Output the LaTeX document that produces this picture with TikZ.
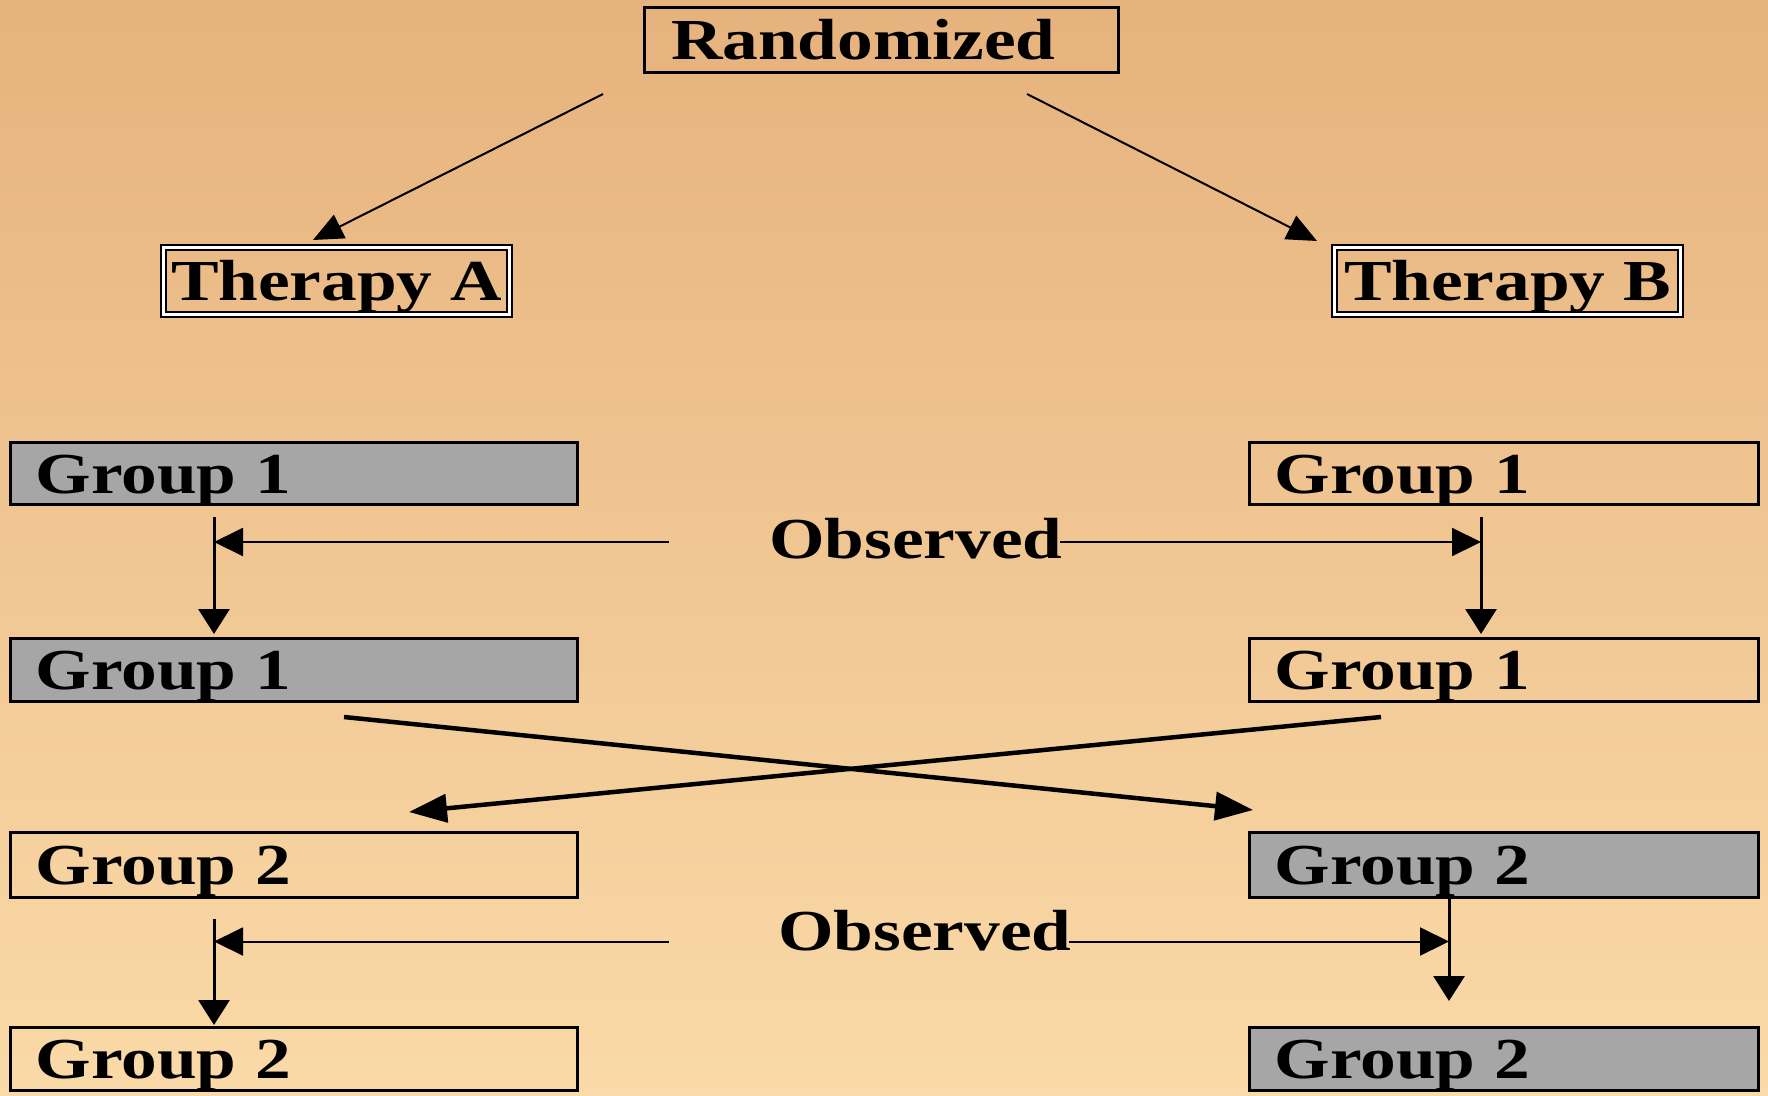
\documentclass[tikz,border=0pt]{standalone}
\usepackage{fontspec}
\setmainfont{Liberation Serif}
\usetikzlibrary{arrows.meta}

\definecolor{bgtop}{HTML}{E6B27D}
\definecolor{bgbot}{HTML}{FADAA8}
\definecolor{boxgray}{HTML}{A6A6A6}

\newcommand{\widefont}{\fontsize{58}{60}\selectfont\bfseries\addfontfeatures{FakeStretch=1.23}}

\tikzset{
  groupbox/.style={draw=black, line width=3pt, anchor=north west, outer sep=0pt,
    inner xsep=25pt, inner ysep=0pt, align=left,
    text height=39pt, text depth=0pt, font=\widefont},
  grayfill/.style={fill=boxgray},
  therapybox/.style={draw=black, line width=2pt, double=white, double distance=2.5pt,
    minimum width=346pt, minimum height=67pt, inner sep=0pt,
    text height=39pt, text depth=0pt, font=\widefont},
  topbox/.style={draw=black, line width=3pt, anchor=north west, outer sep=0pt,
    minimum height=65pt, inner xsep=26.5pt, inner ysep=0pt, align=left,
    text height=39pt, text depth=0pt, font=\widefont},
  obs/.style={font=\widefont, inner sep=0pt, anchor=base west},
  thinarrow/.style={line width=2pt, -{Triangle[length=29pt,width=28pt]}},
  downarrow/.style={line width=3pt, -{Triangle[length=25pt,width=31pt]}},
  diagarrow/.style={line width=2pt, -{Triangle[length=30pt,width=26pt]}},
  crossarrow/.style={line width=4.5pt, -{Triangle[length=38pt,width=28pt]}},
}

\begin{document}
\begin{tikzpicture}[x=1pt, y=-1pt]
  % background
  \shade[top color=bgtop, bottom color=bgbot] (0,0) rectangle (1768,1095);
  \useasboundingbox (0,0) rectangle (1768,1095);

  % top of the tree
  \node[topbox, text width=421pt] (rand) at (644.5,7) {Randomized};
  \node[therapybox] (ta) at (336.5,281) {Therapy A};
  \node[therapybox] (tb) at (1507.5,281) {Therapy B};

  \coordinate (rl) at (603,94);
  \coordinate (rr) at (1027,94);
  \coordinate (tat) at (313,240);
  \coordinate (tbt) at (1317,241);
  \draw[diagarrow] (rl) -- (tat);
  \draw[diagarrow] (rr) -- (tbt);

  % group boxes, left column
  \node[groupbox, grayfill, text width=516.5pt, minimum height=62pt] (l1) at (10.5,442.5) {Group 1};
  \node[groupbox, grayfill, text width=516.5pt, minimum height=62.5pt] (l2) at (10.5,638.5) {Group 1};
  \node[groupbox, text width=516.5pt, minimum height=65pt] (l3) at (10.5,832.5) {Group 2};
  \node[groupbox, text width=516.5pt, minimum height=63pt] (l4) at (10.5,1027.5) {Group 2};

  % group boxes, right column
  \node[groupbox, text width=459pt, minimum height=62pt] (r1) at (1249.5,442.5) {Group 1};
  \node[groupbox, text width=459pt, minimum height=62.5pt] (r2) at (1249.5,638.5) {Group 1};
  \node[groupbox, grayfill, text width=459pt, minimum height=65pt] (r3) at (1249.5,832.5) {Group 2};
  \node[groupbox, grayfill, text width=459pt, minimum height=63pt] (r4) at (1249.5,1027.5) {Group 2};

  % observation labels
  \node[obs] (o1) at (769,558) {Observed};
  \node[obs] (o2) at (778,950.5) {Observed};

  % first observation period
  \coordinate (l1s) at (214,517);
  \coordinate (l1t) at (214,634);
  \coordinate (r1s) at (1481,517);
  \coordinate (r1t) at (1481,634);
  \coordinate (o1l) at (669,542);
  \coordinate (o1r) at (1060,542);
  \draw[downarrow] (l1s) -- (l1t);
  \draw[downarrow] (r1s) -- (r1t);
  \draw[thinarrow] (o1l) -- (o1l -| l1s);
  \draw[thinarrow] (o1r) -- (o1r -| r1s);

  % crossover
  \coordinate (xa) at (344,717);
  \coordinate (xb) at (1253,810);
  \coordinate (xc) at (1381,717);
  \coordinate (xd) at (409,812);
  \draw[crossarrow] (xa) -- (xb);
  \draw[crossarrow] (xc) -- (xd);

  % second observation period
  \coordinate (l3s) at (214,919);
  \coordinate (l3t) at (214,1025);
  \coordinate (r3s) at (1449,896);
  \coordinate (r3t) at (1449,1001);
  \coordinate (o2l) at (669,941.5);
  \coordinate (o2r) at (1069,941.5);
  \draw[downarrow] (l3s) -- (l3t);
  \draw[downarrow] (r3s) -- (r3t);
  \draw[thinarrow] (o2l) -- (o2l -| l3s);
  \draw[thinarrow] (o2r) -- (o2r -| r3s);
\end{tikzpicture}
\end{document}
